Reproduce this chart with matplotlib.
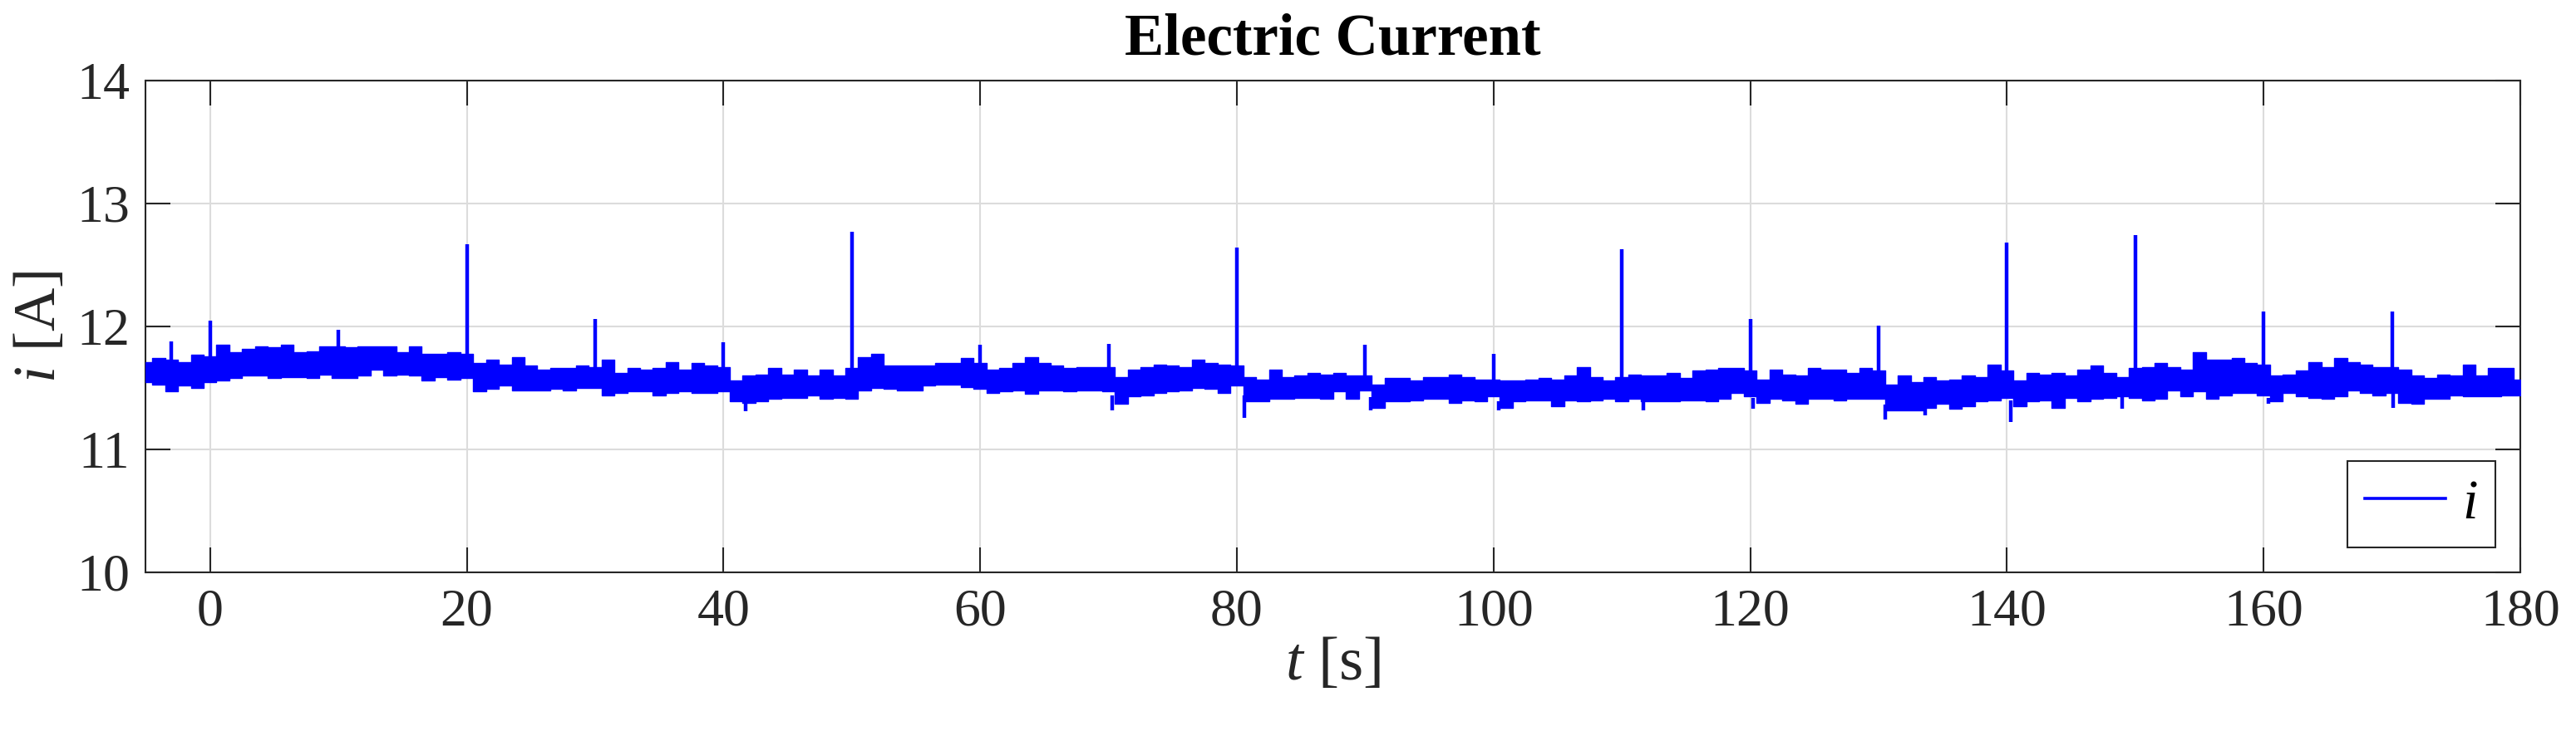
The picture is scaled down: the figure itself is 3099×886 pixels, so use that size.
import numpy as np
import matplotlib
matplotlib.use("Agg")
import matplotlib.pyplot as plt
from matplotlib.lines import Line2D

# ---------------- data ----------------
t_s = list(range(-5, 181))  # 1-s grid

i_upper = [
    11.71, 11.74, 11.73, 11.71, 11.77,                       # -5..-1
    11.76, 11.85, 11.79, 11.82, 11.84, 11.83, 11.85, 11.79, 11.80, 11.84,  # 0..9
    11.84, 11.83, 11.84, 11.84, 11.84, 11.79, 11.84, 11.78, 11.78, 11.79,  # 10..19
    11.78, 11.70, 11.73, 11.69, 11.75, 11.68, 11.65, 11.66, 11.66, 11.68,  # 20..29
    11.67, 11.73, 11.62, 11.66, 11.65, 11.66, 11.71, 11.65, 11.70, 11.68,  # 30..39
    11.67, 11.56, 11.60, 11.61, 11.66, 11.61, 11.65, 11.60, 11.65, 11.60,  # 40..49
    11.66, 11.75, 11.78, 11.68, 11.68, 11.68, 11.68, 11.70, 11.70, 11.74,  # 50..59
    11.70, 11.65, 11.66, 11.70, 11.75, 11.70, 11.68, 11.66, 11.67, 11.67,  # 60..69
    11.67, 11.59, 11.65, 11.67, 11.69, 11.68, 11.67, 11.73, 11.70, 11.69,  # 70..79
    11.68, 11.59, 11.57, 11.65, 11.59, 11.60, 11.62, 11.61, 11.62, 11.60,  # 80..89
    11.60, 11.53, 11.58, 11.58, 11.56, 11.59, 11.59, 11.61, 11.59, 11.57,  # 90..99
    11.57, 11.56, 11.56, 11.57, 11.58, 11.57, 11.60, 11.67, 11.59, 11.56,  # 100..109
    11.59, 11.61, 11.60, 11.60, 11.62, 11.58, 11.64, 11.65, 11.66, 11.66,  # 110..119
    11.64, 11.57, 11.65, 11.61, 11.60, 11.66, 11.65, 11.65, 11.62, 11.66,  # 120..129
    11.64, 11.53, 11.60, 11.55, 11.59, 11.56, 11.57, 11.60, 11.59, 11.69,  # 130..139
    11.64, 11.56, 11.62, 11.61, 11.62, 11.60, 11.65, 11.68, 11.62, 11.59,  # 140..149
    11.66, 11.67, 11.70, 11.67, 11.65, 11.79, 11.73, 11.73, 11.74, 11.70,  # 150..159
    11.69, 11.60, 11.61, 11.64, 11.71, 11.67, 11.74, 11.71, 11.69, 11.67,  # 160..169
    11.67, 11.65, 11.60, 11.58, 11.61, 11.60, 11.69, 11.60, 11.66, 11.66,  # 170..179
    11.57,                                                                  # 180
]

i_lower = [
    11.55, 11.53, 11.47, 11.52, 11.50,
    11.55, 11.56, 11.58, 11.60, 11.60, 11.58, 11.59, 11.59, 11.58, 11.61,
    11.58, 11.58, 11.60, 11.65, 11.60, 11.61, 11.60, 11.56, 11.59, 11.57,
    11.58, 11.47, 11.49, 11.52, 11.48, 11.48, 11.48, 11.49, 11.48, 11.50,
    11.50, 11.44, 11.46, 11.47, 11.47, 11.44, 11.46, 11.47, 11.46, 11.46,
    11.47, 11.39, 11.38, 11.39, 11.41, 11.42, 11.42, 11.44, 11.41, 11.42,
    11.41, 11.48, 11.50, 11.49, 11.48, 11.48, 11.52, 11.53, 11.53, 11.51,
    11.49, 11.46, 11.47, 11.48, 11.45, 11.48, 11.48, 11.47, 11.48, 11.48,
    11.47, 11.37, 11.43, 11.44, 11.46, 11.47, 11.48, 11.50, 11.49, 11.46,
    11.52, 11.39, 11.39, 11.41, 11.41, 11.42, 11.42, 11.41, 11.47, 11.41,
    11.48, 11.34, 11.39, 11.39, 11.40, 11.41, 11.41, 11.38, 11.40, 11.39,
    11.43, 11.34, 11.39, 11.40, 11.40, 11.35, 11.40, 11.39, 11.40, 11.41,
    11.39, 11.41, 11.39, 11.39, 11.39, 11.40, 11.40, 11.39, 11.41, 11.46,
    11.43, 11.38, 11.41, 11.40, 11.37, 11.41, 11.41, 11.40, 11.41, 11.41,
    11.41, 11.32, 11.32, 11.32, 11.34, 11.37, 11.33, 11.35, 11.39, 11.40,
    11.42, 11.35, 11.39, 11.40, 11.34, 11.42, 11.39, 11.41, 11.42, 11.43,
    11.42, 11.40, 11.41, 11.48, 11.43, 11.47, 11.41, 11.44, 11.46, 11.46,
    11.44, 11.39, 11.46, 11.43, 11.42, 11.41, 11.43, 11.48, 11.46, 11.44,
    11.46, 11.38, 11.37, 11.41, 11.41, 11.44, 11.43, 11.43, 11.43, 11.44,
    11.44,
]

spike_t = [-3, 0, 10, 20, 30, 40, 50, 60, 70, 80, 90, 100, 110, 120, 130, 140, 150, 160, 170]
spike_peak = [11.88, 12.05, 11.97, 12.67, 12.06, 11.87, 12.77, 11.85, 11.86, 12.64,
              11.85, 11.78, 12.63, 12.06, 12.01, 12.68, 12.74, 12.12, 12.12]

dip_t = [41.7, 70.3, 80.6, 90.4, 100.4, 111.7, 120.2, 130.5, 133.6, 140.3, 149.0, 160.4, 170.1]
dip_val = [11.31, 11.32, 11.26, 11.32, 11.32, 11.32, 11.33, 11.24, 11.28, 11.22, 11.33, 11.37, 11.34]

x_ticks = list(range(0, 181, 20))
y_ticks = [10, 11, 12, 13, 14]

# ---------------- style ----------------
plt.rcParams.update({
    "font.family": ["Liberation Serif", "DejaVu Serif"],
    "mathtext.fontset": "custom",
    "mathtext.rm": "Liberation Serif",
    "mathtext.it": "Liberation Serif:italic",
    "mathtext.bf": "Liberation Serif:bold",
})

BLUE = "#0000ff"
AXC = "#262626"

fig = plt.figure(figsize=(30.99, 8.86), dpi=100)
ax = fig.add_axes([0.05663, 0.22235, 0.92175, 0.6682])

t_arr = np.array(t_s, dtype=float)
lo = np.array(i_lower)
hi = np.array(i_upper)

ax.fill_between(t_arr, lo, hi, step="mid", color=BLUE, lw=1.0, edgecolor=BLUE, zorder=3)
ax.vlines(spike_t, np.interp(spike_t, t_arr, lo), spike_peak, color=BLUE, lw=3.2, zorder=3)
ax.vlines(dip_t, dip_val, np.interp(dip_t, t_arr, lo), color=BLUE, lw=3.2, zorder=3)

ax.set_xlim(-5, 180)
ax.set_ylim(10, 14)
ax.set_xticks(x_ticks)
ax.set_yticks(y_ticks)

ax.tick_params(direction="in", length=21.6, width=1.5, top=True, right=True,
               labelsize=46, pad=14, color=AXC, labelcolor=AXC)
for sp in ax.spines.values():
    sp.set_linewidth(1.5)
    sp.set_color(AXC)

ax.grid(True, color="#dcdcdc", lw=1.5)
ax.set_axisbelow(True)

ax.set_title("Electric Current", fontsize=51, fontweight="bold", pad=23, color="black")
ax.set_xlabel(r"$\mathit{t}$ [s]", fontsize=54, color=AXC, va="baseline")
ax.xaxis.set_label_coords(0.5, -0.218)
ax.set_ylabel(r"$\mathit{i}$ [A]", fontsize=52, color=AXC, va="center")
ax.yaxis.set_label_coords(-0.0443, 0.5)

leg = ax.legend(handles=[Line2D([], [], color=BLUE, lw=2.6)], labels=[r"$\mathit{i}$"],
                loc="lower right", fontsize=48, frameon=True, fancybox=False,
                edgecolor=AXC, framealpha=1, borderaxespad=0.45, handlelength=1.45,
                handletextpad=0.3, borderpad=0.32)
leg.get_frame().set_linewidth(1.5)

fig.savefig("out.png", dpi=100)
